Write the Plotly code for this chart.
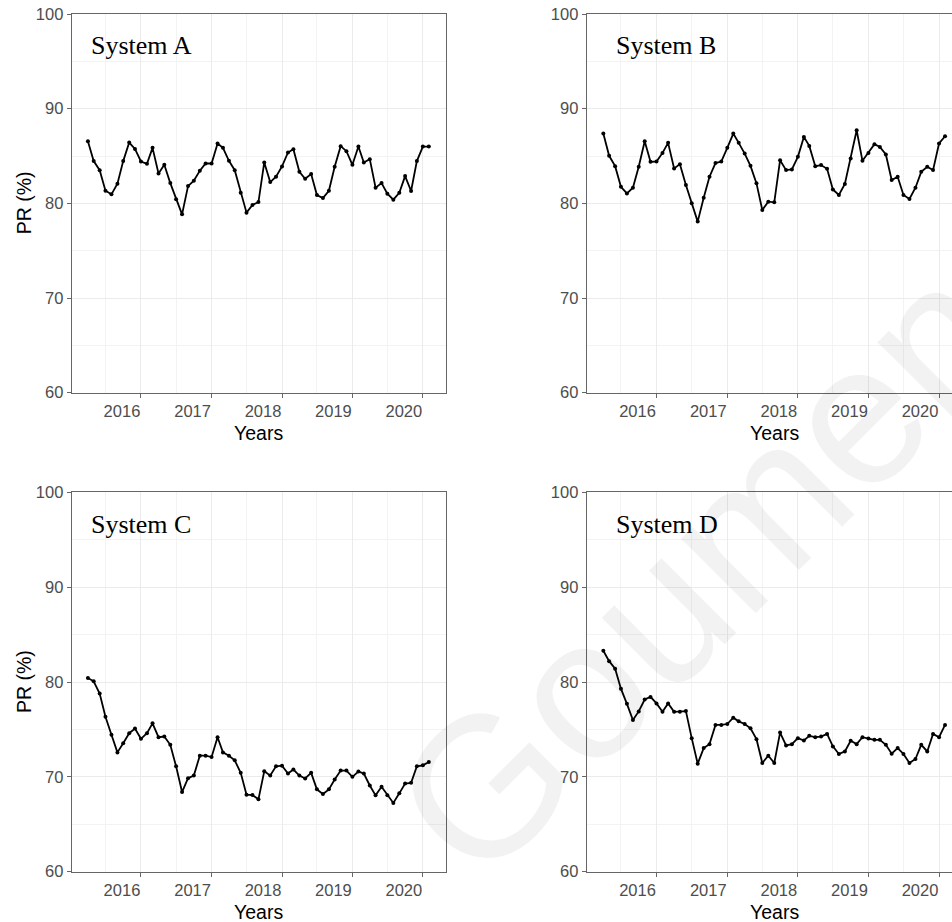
import plotly.graph_objects as go
import pandas as pd

dates = pd.date_range("2015-04-01", "2020-02-01", freq="MS").strftime("%Y-%m-%d").tolist()

sys_a = [86.56, 84.46, 83.5, 81.33, 80.95, 82.07, 84.46, 86.42, 85.75, 84.42, 84.18, 85.86,
         83.16, 84.07, 82.14, 80.42, 78.84, 81.82, 82.39, 83.44, 84.21, 84.21, 86.32, 85.86,
         84.49, 83.5, 81.12, 79.02, 79.82, 80.14, 84.32, 82.25, 82.81, 83.9, 85.37, 85.72,
         83.33, 82.6, 83.09, 80.88, 80.56, 81.33, 83.86, 86.04, 85.51, 84.07, 86.0, 84.32,
         84.67, 81.65, 82.14, 81.02, 80.39, 81.12, 82.88, 81.3, 84.46, 86.0, 86.0]
sys_b = [87.37, 85.02, 83.93, 81.75, 81.05, 81.65, 83.86, 86.56, 84.39, 84.42, 85.33, 86.39,
         83.68, 84.14, 81.93, 80.0, 78.07, 80.6, 82.81, 84.25, 84.42, 85.86, 87.37, 86.39,
         85.26, 83.96, 82.11, 79.3, 80.18, 80.11, 84.56, 83.51, 83.58, 84.91, 87.02, 86.07,
         83.93, 84.04, 83.65, 81.47, 80.88, 82.04, 84.74, 87.72, 84.49, 85.33, 86.25, 85.96,
         85.16, 82.46, 82.81, 80.88, 80.46, 81.65, 83.33, 83.86, 83.51, 86.32, 87.09]
sys_c = [80.42, 80.07, 78.78, 76.34, 74.43, 72.58, 73.55, 74.6, 75.09, 74.01, 74.6, 75.64,
         74.18, 74.25, 73.38, 71.11, 68.4, 69.86, 70.14, 72.23, 72.23, 72.09, 74.18, 72.58,
         72.23, 71.74, 70.42, 68.12, 68.08, 67.63, 70.59, 70.14, 71.11, 71.18, 70.35, 70.77,
         70.14, 69.83, 70.42, 68.68, 68.19, 68.68, 69.72, 70.66, 70.66, 70.0, 70.56, 70.35,
         69.09, 68.05, 68.95, 68.05, 67.25, 68.26, 69.3, 69.37, 71.11, 71.22, 71.57]
sys_d = [83.3, 82.2, 81.4, 79.3, 77.7, 76.0, 76.9, 78.15, 78.43, 77.74, 76.86, 77.74,
         76.86, 76.86, 76.93, 74.08, 71.39, 73.03, 73.45, 75.47, 75.47, 75.57, 76.24, 75.85,
         75.57, 75.12, 73.97, 71.46, 72.23, 71.46, 74.67, 73.31, 73.45, 74.08, 73.83, 74.32,
         74.18, 74.25, 74.53, 73.21, 72.41, 72.68, 73.8, 73.45, 74.18, 74.04, 73.9, 73.9,
         73.38, 72.44, 73.03, 72.41, 71.46, 71.88, 73.38, 72.68, 74.53, 74.18, 75.47]

panel_names = ["System A", "System B", "System C", "System D"]
panel_series = [sys_a, sys_b, sys_c, sys_d]

year_ticks = ["2016-01-01", "2017-01-01", "2018-01-01", "2019-01-01", "2020-01-01"]
year_labels = ["2016", "2017", "2018", "2019", "2020"]
mid_year = ["2015-07-01", "2016-07-01", "2017-07-01", "2018-07-01", "2019-07-01"]
y_ticks = [60, 70, 80, 90, 100]
y_minor = [65, 75, 85, 95]

W, H = 952, 922
fig = go.Figure()

# panel geometry (pixels)
x_dom = {"L": (71.7, 446.0), "R": (586.7, 952.0)}
y_dom = {"T": (14.0, 392.7), "B": (492.3, 871.7)}
x_rng = {"L": ["2015-01-07", "2020-04-30"], "R": ["2015-01-05", "2020-03-08"]}
layout_map = [("L", "T"), ("R", "T"), ("L", "B"), ("R", "B")]

grid_c = "#EBEBEB"
minor_c = "#F3F3F3"
border_c = "#666666"
tick_font = dict(family="Liberation Sans, Arial", size=16.5, color="#4D4D4D")

annotations = []
for i, (name, vals) in enumerate(zip(panel_names, panel_series)):
    cx, cy = layout_map[i]
    n = "" if i == 0 else str(i + 1)
    fig.add_trace(go.Scatter(
        x=dates, y=vals, mode="lines+markers",
        line=dict(color="black", width=1.8),
        marker=dict(color="black", size=4),
        xaxis="x" + n, yaxis="y" + n, showlegend=False, hoverinfo="skip"))
    x0, x1 = x_dom[cx]
    y0, y1 = y_dom[cy]
    fig.layout["xaxis" + n] = dict(
        domain=[x0 / W, x1 / W], anchor="y" + n, type="date", range=x_rng[cx],
        tickmode="array", tickvals=year_ticks, ticktext=year_labels,
        ticks="outside", ticklen=4, tickcolor=border_c, tickwidth=1,
        ticklabelshift=-19, ticklabelstandoff=-1,
        tickfont=tick_font, showgrid=True, gridcolor=grid_c, gridwidth=1,
        minor=dict(tickmode="array", tickvals=mid_year, showgrid=True,
                   gridcolor=minor_c, gridwidth=1, ticks=""),
        showline=True, linecolor=border_c, linewidth=1, mirror=True,
        zeroline=False, fixedrange=True, automargin=False)
    fig.layout["yaxis" + n] = dict(
        domain=[1 - y1 / H, 1 - y0 / H], anchor="x" + n, range=[60, 100],
        tickmode="array", tickvals=y_ticks,
        ticks="outside", ticklen=4, tickcolor=border_c, tickwidth=1,
        tickfont=tick_font, showgrid=True, gridcolor=grid_c, gridwidth=1,
        minor=dict(tickmode="array", tickvals=y_minor, showgrid=True,
                   gridcolor=minor_c, gridwidth=1, ticks=""),
        showline=True, linecolor=border_c, linewidth=1,
        mirror=(cx == "L"), zeroline=False, fixedrange=True, automargin=False)
    # panel label
    lx = 89.3 if cx == "L" else 614.0
    ly = y0 + 31.8
    annotations.append(dict(
        text=name, xref="paper", yref="paper", x=lx / W, y=1 - ly / H,
        xanchor="left", yanchor="middle", showarrow=False,
        font=dict(family="Liberation Serif, Times New Roman", size=26, color="black")))
    # x title
    tx = 258.8 if cx == "L" else 774.2
    annotations.append(dict(
        text="Years", xref="paper", yref="paper", x=tx / W, y=1 - (y1 + 40) / H,
        xanchor="center", yanchor="middle", showarrow=False,
        font=dict(family="Liberation Sans, Arial", size=19.5, color="black")))
    if cx == "L":
        annotations.append(dict(
            text="PR (%)", xref="paper", yref="paper", x=24 / W,
            y=1 - ((y0 + y1) / 2) / H, xanchor="center", yanchor="middle",
            textangle=-90, showarrow=False,
            font=dict(family="Liberation Sans, Arial", size=19.5, color="black")))

# faint watermark
annotations.append(dict(
    text="Goumen", xref="paper", yref="paper", x=700 / W, y=1 - 570 / H,
    xanchor="center", yanchor="middle", textangle=-45, showarrow=False,
    font=dict(family="Liberation Sans, Arial", size=200, color="rgba(0,0,0,0.05)")))

fig.update_layout(
    width=W, height=H, margin=dict(l=0, r=0, t=0, b=0, pad=0, autoexpand=False),
    paper_bgcolor="white", plot_bgcolor="white",
    annotations=annotations, showlegend=False)

fig.write_html("out.html", config={"displayModeBar": False})
